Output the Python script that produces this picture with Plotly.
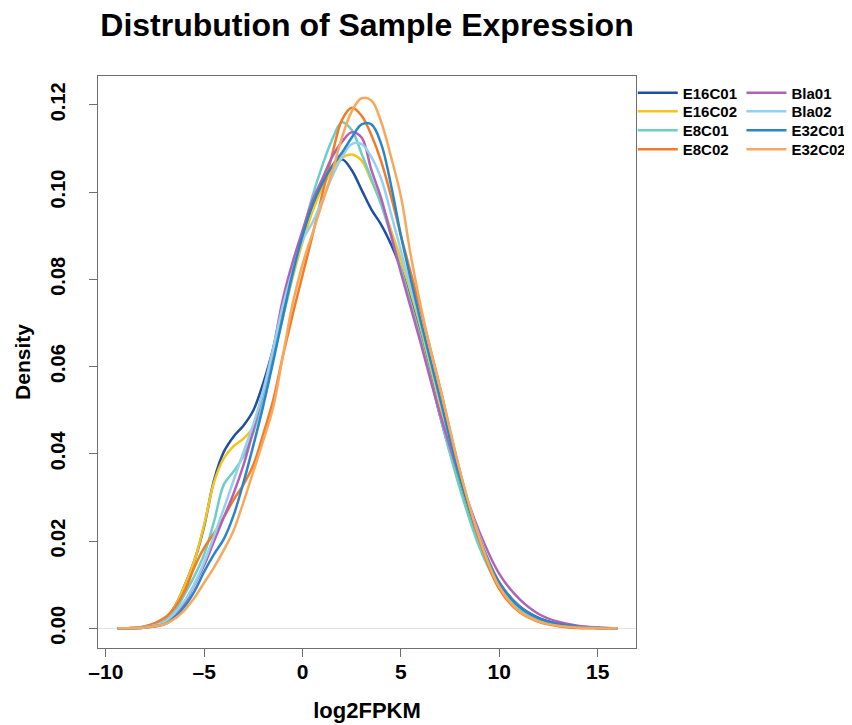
import plotly.graph_objects as go

# Density curves (x = log2FPKM, y = density)
x_grid = [-9.4, -8, -7, -6.5, -6, -5.5, -5, -4.5, -4, -3.5, -3, -2.5, -2, -1.5, -1, -0.5,
          0, 0.5, 1, 1.5, 2, 2.5, 3, 3.5, 4, 4.5, 5, 5.5, 6, 6.5, 7, 8, 9, 10, 11, 12, 13, 14, 15, 16]

E16C01 = [0, 0.0004, 0.0022, 0.0050, 0.0098, 0.0155, 0.0235, 0.0340, 0.0405, 0.0440, 0.0465, 0.0500,
          0.0562, 0.0640, 0.0735, 0.0820, 0.0895, 0.0965, 0.1015, 0.1055, 0.1075, 0.1050, 0.1005, 0.0960,
          0.0925, 0.0880, 0.0825, 0.0760, 0.0680, 0.0585, 0.0485, 0.0330, 0.0200, 0.0105, 0.0052, 0.0024,
          0.0010, 0.0003, 0.0001, 0]
E16C02 = [0, 0.0004, 0.0022, 0.0050, 0.0098, 0.0155, 0.0238, 0.0335, 0.0390, 0.0418, 0.0435, 0.0462,
          0.0535, 0.0628, 0.0715, 0.0805, 0.0885, 0.0955, 0.1010, 0.1050, 0.1078, 0.1086, 0.1072, 0.1025,
          0.0975, 0.0912, 0.0845, 0.0770, 0.0690, 0.0600, 0.0510, 0.0340, 0.0200, 0.0100, 0.0048, 0.0021,
          0.0008, 0.0002, 0.0001, 0]
E8C01 = [0, 0.0003, 0.0018, 0.0040, 0.0078, 0.0120, 0.0170, 0.0245, 0.0330, 0.0360, 0.0395, 0.0450,
         0.0528, 0.0620, 0.0712, 0.0810, 0.0905, 0.0990, 0.1060, 0.1120, 0.1160, 0.1142, 0.1088, 0.1030,
         0.0970, 0.0900, 0.0825, 0.0745, 0.0665, 0.0575, 0.0485, 0.0320, 0.0185, 0.0095, 0.0045, 0.0020,
         0.0008, 0.0002, 0.0001, 0]
E8C02 = [0, 0.0005, 0.0025, 0.0048, 0.0085, 0.0140, 0.0185, 0.0218, 0.0255, 0.0295, 0.0330, 0.0375,
         0.0445, 0.0522, 0.0625, 0.0720, 0.0810, 0.0900, 0.0995, 0.1085, 0.1165, 0.1193, 0.1175, 0.1130,
         0.1070, 0.0990, 0.0900, 0.0815, 0.0730, 0.0640, 0.0550, 0.0360, 0.0200, 0.0090, 0.0038, 0.0015,
         0.0005, 0.0001, 0, 0]
Bla01 = [0, 0.0002, 0.0012, 0.0030, 0.0058, 0.0100, 0.0145, 0.0200, 0.0255, 0.0310, 0.0375, 0.0455,
         0.0545, 0.0640, 0.0755, 0.0840, 0.0912, 0.0980, 0.1030, 0.1080, 0.1115, 0.1137, 0.1125, 0.1050,
         0.0985, 0.0900, 0.0815, 0.0735, 0.0655, 0.0570, 0.0490, 0.0345, 0.0220, 0.0125, 0.0068, 0.0033,
         0.0015, 0.0006, 0.0002, 0]
Bla02 = [0, 0.0003, 0.0015, 0.0035, 0.0063, 0.0102, 0.0152, 0.0212, 0.0275, 0.0340, 0.0405, 0.0468,
         0.0545, 0.0640, 0.0740, 0.0820, 0.0890, 0.0930, 0.0980, 0.1035, 0.1080, 0.1110, 0.1110, 0.1080,
         0.1030, 0.0950, 0.0865, 0.0780, 0.0700, 0.0610, 0.0520, 0.0350, 0.0210, 0.0105, 0.0050, 0.0022,
         0.0009, 0.0003, 0.0001, 0]
E32C01 = [0, 0.0002, 0.0010, 0.0025, 0.0050, 0.0085, 0.0130, 0.0170, 0.0205, 0.0260, 0.0335, 0.0420,
          0.0510, 0.0610, 0.0715, 0.0815, 0.0900, 0.0970, 0.1020, 0.1060, 0.1090, 0.1125, 0.1155, 0.1155,
          0.1110, 0.1015, 0.0900, 0.0800, 0.0705, 0.0615, 0.0525, 0.0345, 0.0205, 0.0105, 0.0050, 0.0023,
          0.0010, 0.0004, 0.0001, 0]
E32C02 = [0, 0.0002, 0.0010, 0.0022, 0.0042, 0.0070, 0.0105, 0.0140, 0.0180, 0.0225, 0.0290, 0.0360,
          0.0430, 0.0505, 0.0625, 0.0745, 0.0835, 0.0905, 0.0975, 0.1045, 0.1125, 0.1185, 0.1215, 0.1210,
          0.1160, 0.1080, 0.0990, 0.0855, 0.0740, 0.0640, 0.0550, 0.0360, 0.0205, 0.0095, 0.0040, 0.0016,
          0.0006, 0.0002, 0, 0]

series_names = ["E16C01", "E16C02", "E8C01", "E8C02", "Bla01", "Bla02", "E32C01", "E32C02"]
series_values = [E16C01, E16C02, E8C01, E8C02, Bla01, Bla02, E32C01, E32C02]
series_colors = ["#1f4f9e", "#f6c41e", "#6ccfc5", "#f47a26", "#b460b8", "#94d0f0", "#2a86c6", "#f8a85a"]

x_ticks = [-10, -5, 0, 5, 10, 15]
y_ticks = [0.00, 0.02, 0.04, 0.06, 0.08, 0.10, 0.12]

FONT = "Liberation Sans, Arial, Helvetica, sans-serif"

# plot area geometry (px) used to place the two-column legend
PLOT_H = 725 - 68 - 85
row_offsets = [17, 35.5, 54.5, 73.5]    # px below the top of the plot box
col_x = [0.994, 1.196]                  # paper x of each legend column

fig = go.Figure()
legend_layout = {}
for i, (name, vals, col) in enumerate(zip(series_names, series_values, series_colors)):
    key = "legend" if i == 0 else f"legend{i + 1}"
    fig.add_trace(go.Scatter(
        x=x_grid, y=vals, name=name, mode="lines",
        line=dict(color=col, width=2.5, shape="spline", smoothing=1.0),
        legend=key,
    ))
    legend_layout[key] = dict(
        x=col_x[i // 4], y=1 - row_offsets[i % 4] / PLOT_H,
        xanchor="left", yanchor="middle",
        font=dict(family=FONT, size=15, color="black", weight="bold"),
        bgcolor="rgba(0,0,0,0)", borderwidth=0, itemwidth=40,
    )

fig.update_layout(
    width=852, height=725,
    paper_bgcolor="white", plot_bgcolor="white",
    margin=dict(l=90, r=224, t=68, b=85, autoexpand=False),
    title=dict(text="<b>Distrubution of Sample Expression</b>",
               font=dict(family=FONT, size=32, color="black"),
               x=0.5, xref="paper", xanchor="center",
               y=1 - 17 / 725, yref="container", yanchor="middle"),
    font=dict(family=FONT, color="black"),
    xaxis=dict(
        range=[-10.4, 16.95], tickvals=x_ticks,
        ticktext=[("\u2013" + str(-v)) if v < 0 else str(v) for v in x_ticks],
        showgrid=False, zeroline=False, automargin=False,
        showline=True, mirror=True, linecolor="#6e6e6e", linewidth=1.2,
        ticks="outside", ticklen=8, tickcolor="#6e6e6e", tickwidth=1.2,
        ticklabelstandoff=-3,
        tickfont=dict(family=FONT, size=21, color="black", weight="bold"),
        title=dict(text="<b>log2FPKM</b>", font=dict(family=FONT, size=22, color="black"), standoff=20),
    ),
    yaxis=dict(
        range=[-0.0045, 0.1266], tickvals=y_ticks, tickformat=".2f",
        showgrid=False, zeroline=True, zerolinecolor="#e4e4e4", zerolinewidth=1,
        showline=True, mirror=True, linecolor="#6e6e6e", linewidth=1.2, automargin=False,
        ticks="outside", ticklen=8, tickcolor="#6e6e6e", tickwidth=1.2,
        tickangle=-90, ticklabelstandoff=16,
        tickfont=dict(family=FONT, size=20, color="black", weight="bold"),
        title=dict(text="<b>Density</b>", font=dict(family=FONT, size=21, color="black"), standoff=10),
    ),
    showlegend=True,
    **legend_layout,
)

fig.write_html("out.html")
